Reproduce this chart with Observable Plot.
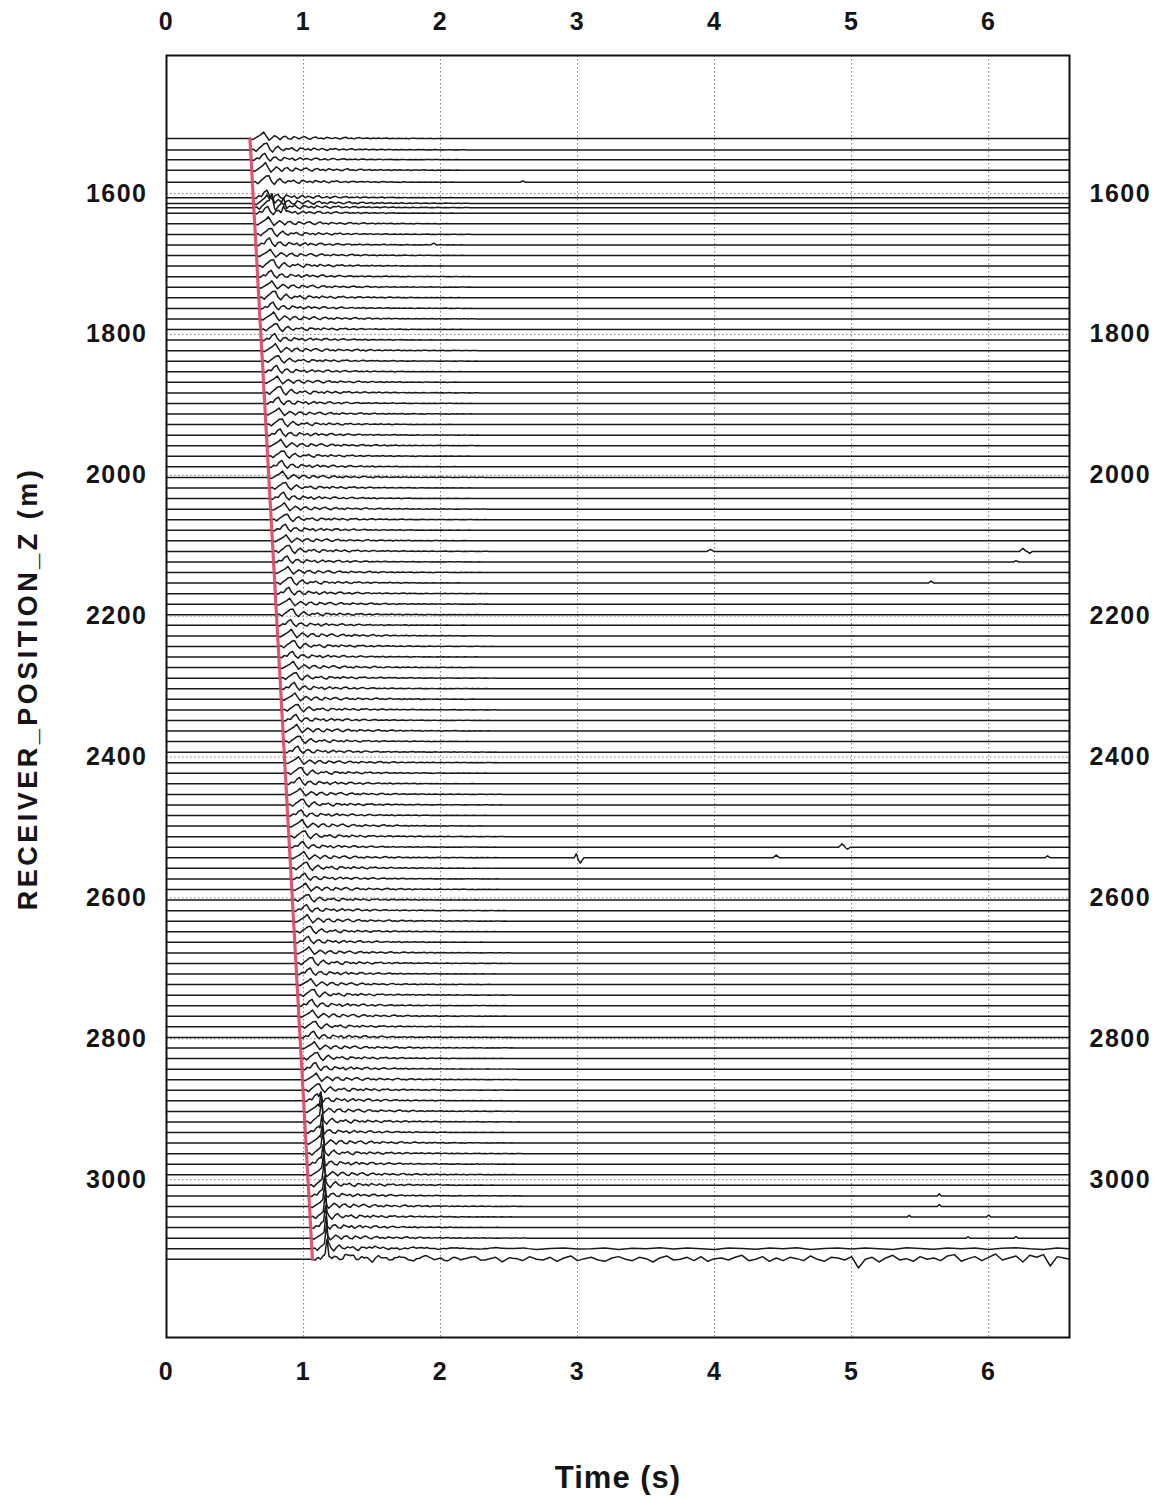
<!DOCTYPE html>
<html>
<head>
<meta charset="utf-8">
<script src="https://cdn.jsdelivr.net/npm/d3@7"></script>
<script src="https://cdn.jsdelivr.net/npm/@observablehq/plot@0.6"></script>
<style>
  body { margin: 0; background: #fff; }
  #chart svg { display: block; }
</style>
</head>
<body>
<div id="chart"></div>
<script>
// Receiver depths (m), one seismic trace each
const depths = [
  1522, 1538, 1552, 1567, 1584, 1606, 1614, 1620, 1628,
  1643, 1658, 1673, 1688, 1703, 1718, 1733, 1748, 1763, 1778,
  1793, 1808, 1823, 1838, 1853, 1868, 1883, 1898, 1913, 1928,
  1943, 1958, 1973, 1988, 2003, 2018, 2033, 2048, 2063, 2078,
  2093, 2108, 2123, 2138, 2153, 2168, 2183, 2198, 2213, 2228,
  2243, 2258, 2273, 2288, 2303, 2318, 2333, 2348, 2363, 2378,
  2393, 2408, 2423, 2438, 2453, 2468, 2483, 2498, 2513, 2528,
  2543, 2558, 2573, 2588, 2603, 2618, 2633, 2648, 2663, 2678,
  2693, 2708, 2723, 2738, 2753, 2768, 2783, 2798, 2813, 2828,
  2843, 2858, 2873, 2888, 2903, 2918, 2933, 2948, 2963, 2978,
  2993, 3008, 3023, 3038, 3053, 3068, 3083, 3098, 3113
];

// First-break picks (s), same order as depths
const firstBreak = [
  0.609, 0.614, 0.618, 0.622, 0.627, 0.633, 0.635, 0.637, 0.639,
  0.644, 0.648, 0.652, 0.657, 0.661, 0.665, 0.669, 0.674, 0.678, 0.682,
  0.687, 0.691, 0.695, 0.700, 0.704, 0.708, 0.712, 0.717, 0.721, 0.725,
  0.730, 0.734, 0.738, 0.743, 0.747, 0.751, 0.755, 0.760, 0.764, 0.768,
  0.773, 0.777, 0.781, 0.786, 0.790, 0.794, 0.798, 0.803, 0.807, 0.811,
  0.816, 0.820, 0.824, 0.829, 0.833, 0.837, 0.841, 0.846, 0.850, 0.854,
  0.859, 0.863, 0.867, 0.872, 0.876, 0.880, 0.884, 0.889, 0.893, 0.897,
  0.902, 0.906, 0.910, 0.915, 0.919, 0.923, 0.927, 0.932, 0.936, 0.940,
  0.945, 0.949, 0.953, 0.958, 0.962, 0.966, 0.970, 0.975, 0.979, 0.983,
  0.988, 0.992, 0.996, 1.001, 1.005, 1.009, 1.013, 1.018, 1.022, 1.026,
  1.031, 1.035, 1.039, 1.044, 1.048, 1.052, 1.056, 1.061, 1.065
];

// Relative trace gains, same order as depths
const gains = [
  1.00, 1.10, 1.00, 1.15, 1.10, 1.20, 1.30, 1.20, 1.10,
  1.05, 1.00, 1.10, 0.95, 1.05, 1.00, 0.95, 1.10, 1.00, 1.05,
  0.95, 1.00, 1.05, 0.90, 1.00, 0.95, 1.05, 1.00, 0.90, 0.95,
  1.00, 0.95, 0.90, 1.00, 0.95, 0.90, 1.00, 0.95, 0.90, 0.95,
  0.90, 1.00, 0.95, 0.90, 0.95, 1.00, 0.90, 0.95, 0.90, 1.00,
  0.95, 0.90, 0.95, 0.90, 1.00, 0.95, 0.90, 0.95, 1.00, 0.90,
  0.95, 0.90, 0.95, 1.00, 0.90, 0.95, 0.90, 1.00, 0.95, 0.90,
  0.95, 1.00, 0.90, 0.95, 0.90, 0.95, 1.00, 0.90, 0.95, 0.90,
  1.00, 0.95, 0.90, 0.95, 1.00, 0.95, 0.90, 1.00, 0.95, 1.00,
  1.05, 1.00, 1.05, 1.10, 1.05, 1.10, 1.00, 1.10, 1.05, 1.10,
  1.05, 1.10, 1.00, 1.10, 1.05, 1.10, 1.05, 1.10, 1.20
];

// Direct-arrival wavelets (amplitude units, sampled every WAVELET_DT s after the first break)
const WAVELET_DT = 0.02;
const waveletA = [
  0, -0.15, 0.1, 0.35, 0.6, 1.0, 0.35, -0.25, 0.1, 0.45,
  0.2, -0.15, 0.25, 0.35, 0.0, -0.1, 0.3, 0.15, -0.05, 0.2,
  0.3, 0.05, -0.1, 0.15, 0.25, 0.0, 0.1, -0.05, 0.2, 0.1,
  0.0, 0.15, 0.05, -0.05, 0.12, 0.2, 0.0, 0.08, -0.04, 0.1,
  0.15, 0.0, 0.05, 0.1, -0.03, 0.08, 0.02, 0.1, 0.0, 0.05,
  0.08, -0.02, 0.06, 0.0, 0.07, 0.03, 0.0, 0.06, -0.02, 0.04,
  0.05, 0.0, 0.03, 0.06, 0.0, 0.02, 0.04, -0.02, 0.03, 0.0,
  0.04, 0.01, 0.03, 0.0, 0.02, 0.03, 0.0, 0.02, 0.01, 0
];
const waveletB = [
  0, 0.1, -0.2, 0.2, 0.5, 0.85, 0.9, 0.1, -0.3, 0.2,
  0.5, 0.1, -0.1, 0.2, 0.1, 0.3, 0.0, -0.15, 0.25, 0.2,
  0.0, 0.15, -0.05, 0.25, 0.1, 0.0, 0.2, 0.05, -0.08, 0.15,
  0.1, 0.2, 0.0, 0.05, 0.12, -0.03, 0.1, 0.15, 0.0, 0.06,
  0.1, 0.02, 0.12, 0.0, 0.05, 0.08, -0.02, 0.06, 0.1, 0.0,
  0.04, 0.07, 0.0, 0.05, -0.02, 0.06, 0.03, 0.0, 0.05, 0.02,
  0.0, 0.04, 0.02, 0.05, 0.0, 0.03, 0.0, 0.04, 0.02, 0.0,
  0.03, 0.0, 0.02, 0.03, 0.0, 0.02, 0.0, 0.01, 0.02, 0
];
const waveletC = [
  0, -0.1, 0.25, 0.15, 0.7, 0.95, 0.2, -0.2, 0.3, 0.4,
  0.0, -0.1, 0.35, 0.2, 0.05, 0.25, -0.1, 0.1, 0.3, 0.0,
  0.2, 0.1, -0.05, 0.2, 0.25, 0.0, 0.05, 0.15, -0.05, 0.1,
  0.2, 0.05, 0.0, 0.1, 0.15, 0.0, 0.08, 0.02, 0.12, -0.02,
  0.06, 0.1, 0.0, 0.04, 0.08, 0.0, 0.05, 0.09, -0.02, 0.05,
  0.03, 0.07, 0.0, 0.04, 0.0, 0.05, 0.02, 0.0, 0.04, 0.01,
  0.03, 0.0, 0.05, 0.0, 0.02, 0.03, 0.0, 0.02, 0.04, 0.0,
  0.02, 0.0, 0.03, 0.01, 0.0, 0.02, 0.0, 0.01, 0.0, 0
];
const wavelets = [waveletA, waveletB, waveletC];

// Isolated arrivals and spikes: depth (m), time (s), amplitude (units), half-width (s)
const eventDepth = [1614, 1620, 1620, 1628, 1584, 1673, 2108, 2108, 2108, 2123, 2153,
  2543, 2543, 2543, 2543, 2528, 2528, 3023, 3038, 3053, 3053, 3083, 3083,
  2888, 2903, 2918, 2933, 2948, 2963, 2978, 2993, 3008, 3023, 3038, 3053, 3068, 3083, 3098, 3113];
const eventTime = [0.77, 0.77, 0.855, 0.855, 2.60, 1.95, 3.97, 6.25, 6.30, 6.20, 5.58,
  2.99, 3.02, 4.45, 6.43, 4.93, 4.97, 5.64, 5.64, 5.42, 6.00, 5.85, 6.20,
  1.125, 1.128, 1.131, 1.134, 1.137, 1.140, 1.143, 1.146, 1.149, 1.152, 1.155, 1.158, 1.161, 1.164, 1.167, 1.172];
const eventAmp = [1.6, 1.4, 1.3, 1.2, 0.2, 0.25, 0.3, 0.45, -0.3, 0.2, 0.3,
  0.6, -0.8, 0.4, 0.3, 0.5, -0.3, 0.3, 0.3, 0.25, 0.3, 0.2, 0.25,
  1.2, 2.6, 2.4, 2.5, 2.4, 2.5, 2.6, 2.5, 2.4, 2.5, 2.6, 2.5, 2.6, 2.5, 2.6, 2.2];
const eventWidth = [0.02, 0.02, 0.02, 0.02, 0.02, 0.02, 0.025, 0.025, 0.02, 0.02, 0.02,
  0.015, 0.025, 0.025, 0.02, 0.025, 0.02, 0.015, 0.015, 0.015, 0.015, 0.015, 0.015,
  0.014, 0.014, 0.014, 0.014, 0.014, 0.014, 0.014, 0.014, 0.014, 0.014, 0.014, 0.014, 0.014, 0.014, 0.014, 0.014];

// Background noise on the deepest receivers: depth, start time, sample step, samples
const noiseDepth = [3113, 3098];
const noiseStart = [1.10, 1.30];
const noiseStep = [0.05, 0.10];
const noise3113 = [
  0.0, -0.3, 0.4, -0.2, 0.3, 0.5, -0.1, 0.2, -0.4, 0.3,
  0.1, -0.2, 0.4, 0.0, -0.3, 0.2, 0.5, -0.1, 0.1, -0.3,
  0.3, -0.1, 0.2, 0.4, -0.2, 0.0, 0.3, -0.4, 0.2, 0.1,
  -0.2, 0.4, 0.0, -0.1, 0.3, -0.3, 0.2, 0.5, -0.2, 0.1,
  0.3, -0.1, -0.3, 0.2, 0.4, 0.0, -0.2, 0.3, 0.1, -0.4,
  0.2, 0.5, -0.1, 0.0, 0.3, -0.2, 0.4, -0.3, 0.1, 0.2,
  -0.1, 0.3, 0.6, -0.2, 0.0, 0.4, -0.3, 0.2, -0.2, 0.3,
  0.1, -0.2, 0.5, 0.0, -0.3, 0.3, 0.2, -0.1, 0.4, -1.3,
  0.0, 0.3, -0.4, 0.2, 0.6, -0.1, 0.1, -0.3, 0.4, 0.0,
  0.2, -0.2, 0.5, 0.7, -0.3, 0.1, 0.4, -0.2, 0.3, 0.8,
  -0.1, 0.2, 0.5, -0.4, 0.6, 0.3, 0.7, -1.0, 0.4, 0.2
];
const noise3098 = [
  0.1, -0.1, 0.15, 0.0, -0.12, 0.1, 0.05, -0.1, 0.12, 0.0,
  -0.08, 0.15, 0.0, 0.1, -0.1, 0.05, 0.12, -0.05, 0.0, 0.1,
  -0.12, 0.08, 0.0, 0.15, -0.05, 0.1, 0.0, -0.1, 0.12, 0.05,
  -0.08, 0.1, 0.0, 0.15, -0.1, 0.05, 0.1, -0.05, 0.12, 0.0,
  -0.1, 0.15, 0.05, -0.08, 0.1, 0.0, 0.12, -0.1, 0.08, 0.15,
  0.0, -0.1, 0.1
];
const noiseSamples = [noise3113, noise3098];

// Axis ticks
const timeTicks = [0, 1, 2, 3, 4, 5, 6];
const depthTicks = [1600, 1800, 2000, 2200, 2400, 2600, 2800, 3000];

const T_END = 6.59;     // last recorded time (s)
const AMP_M = 9.5;      // metres of depth offset per amplitude unit

function sampleAt(arr, t0, dt, t) {
  const u = (t - t0) / dt;
  if (u < 0 || u > arr.length - 1) return 0;
  const k = Math.floor(u), f = u - k;
  return k + 1 < arr.length ? arr[k] * (1 - f) + arr[k + 1] * f : arr[k];
}

const tracePoints = [];
depths.forEach((d, i) => {
  const fb = firstBreak[i];
  const w = wavelets[i % 3];
  const evs = eventDepth.map((ed, j) => ({ed, j})).filter(o => o.ed === d).map(o => o.j);
  const nz = noiseDepth.indexOf(d);
  const times = new Set([0, fb, T_END]);
  w.forEach((_, k) => times.add(+(fb + k * WAVELET_DT).toFixed(4)));
  evs.forEach(j => [-eventWidth[j], 0, eventWidth[j]].forEach(o => times.add(+(eventTime[j] + o).toFixed(4))));
  if (nz >= 0) noiseSamples[nz].forEach((_, k) => times.add(+(noiseStart[nz] + k * noiseStep[nz]).toFixed(4)));
  [...times].filter(t => t >= 0 && t <= T_END).sort((a, b) => a - b).forEach(t => {
    let a = gains[i] * sampleAt(w, fb, WAVELET_DT, t);
    evs.forEach(j => { a += eventAmp[j] * Math.max(0, 1 - Math.abs(t - eventTime[j]) / eventWidth[j]); });
    if (nz >= 0) a += sampleAt(noiseSamples[nz], noiseStart[nz], noiseStep[nz], t);
    tracePoints.push({trace: d, t, z: d - AMP_M * a});
  });
});

const picks = depths.map((d, i) => ({depth: d, t: firstBreak[i]}));

const font = "'Liberation Sans', Arial, Helvetica, sans-serif";
const plain = d => String(d);

const chart = Plot.plot({
  width: 1167,
  height: 1502,
  marginTop: 55,
  marginBottom: 165,
  marginLeft: 166,
  marginRight: 98,
  x: {domain: [0, T_END]},
  y: {domain: [1404, 3224], reverse: true},
  style: {fontFamily: font, fontWeight: "bold", color: "#151515", background: "#fff"},
  marks: [
    Plot.ruleX(timeTicks.slice(1), {stroke: "#808080", strokeWidth: 1, strokeDasharray: "1.5,2.5"}),
    Plot.ruleY(depthTicks, {stroke: "#808080", strokeWidth: 1, strokeDasharray: "1.5,2.5"}),
    Plot.line(tracePoints, {x: "t", y: "z", z: "trace", stroke: "#1a1a1a", strokeWidth: 1.5, curve: "linear"}),
    Plot.line(picks, {x: "t", y: "depth", stroke: "#dc4a63", strokeWidth: 3.2, strokeOpacity: 0.92}),
    Plot.frame({stroke: "#111", strokeWidth: 2}),
    Plot.axisX(timeTicks, {anchor: "top", tickSize: 0, tickPadding: 26, fontSize: 25, tickFormat: plain, label: null}),
    Plot.axisX(timeTicks, {anchor: "bottom", tickSize: 0, tickPadding: 25, fontSize: 25, tickFormat: plain, label: null}),
    Plot.axisY(depthTicks, {anchor: "left", tickSize: 0, tickPadding: 19, fontSize: 25, tickFormat: plain, label: null}),
    Plot.axisY(depthTicks, {anchor: "right", tickSize: 0, tickPadding: 20, fontSize: 25, tickFormat: plain, label: null}),
    Plot.text(["Time (s)"], {frameAnchor: "bottom", dy: 150, fontSize: 31, fontWeight: "bold"}),
    Plot.text(["RECEIVER_POSITION_Z (m)"], {frameAnchor: "left", dx: -138, dy: -8, rotate: -90, textAnchor: "middle", fontSize: 27, fontWeight: "bold"})
  ]
});

d3.select(chart).selectAll("g[aria-label^='x-axis'] text, g[aria-label^='y-axis'] text").style("letter-spacing", "1.5px");
const labels = d3.select(chart).selectAll("g[aria-label='text'] text");
labels.filter(function () { return this.textContent.startsWith("RECEIVER"); }).style("letter-spacing", "3.5px");
labels.filter(function () { return this.textContent.startsWith("Time"); }).style("letter-spacing", "1px");
document.getElementById("chart").append(chart);
</script>
</body>
</html>
